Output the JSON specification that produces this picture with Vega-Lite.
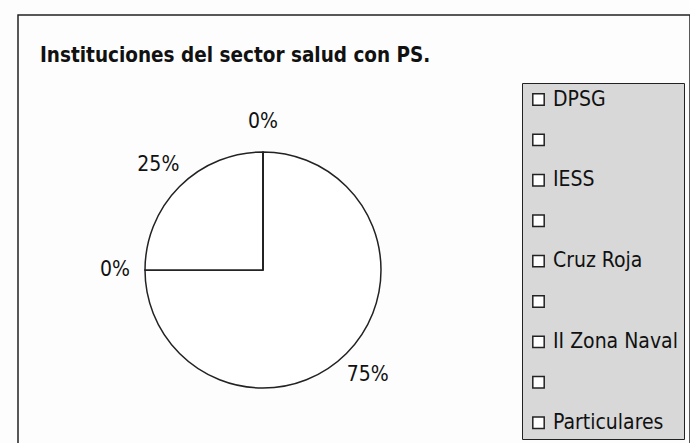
{
  "$schema": "https://vega.github.io/schema/vega-lite/v6.json",
  "autosize": "none",
  "padding": {"left": 18, "top": 15, "right": 0, "bottom": 0},
  "width": 672,
  "height": 440,
  "background": "#fdfdfd",
  "view": {"stroke": "#222", "strokeWidth": 1.5, "fill": "#fdfdfd"},
  "title": {
    "text": "Instituciones del sector salud con PS.",
    "anchor": "start",
    "orient": "top",
    "offset": 0,
    "dx": 22,
    "dy": 51,
    "font": "DejaVu Sans Condensed, Liberation Sans, sans-serif",
    "fontSize": 20.5,
    "fontWeight": "bold",
    "color": "#111"
  },
  "config": {
    "view": {"stroke": "#222", "strokeWidth": 1.5},
    "font": "Liberation Sans"
  },
  "data": {
    "values": [
      {"institucion": "DPSG", "porcentaje": 75, "orden": 1, "etiqueta": "75%"},
      {"institucion": "IESS", "porcentaje": 0, "orden": 2, "etiqueta": "0%"},
      {"institucion": "Cruz Roja", "porcentaje": 25, "orden": 3, "etiqueta": "25%"},
      {"institucion": "II Zona Naval", "porcentaje": 0, "orden": 4, "etiqueta": "0%"},
      {"institucion": "Particulares", "porcentaje": 0, "orden": 5, "etiqueta": ""}
    ]
  },
  "encoding": {
    "theta": {"field": "porcentaje", "type": "quantitative", "stack": true},
    "order": {"field": "orden", "type": "quantitative"}
  },
  "layer": [
    {
      "mark": {"type": "arc", "outerRadius": 118, "stroke": "#222", "strokeWidth": 1.5, "xOffset": -91, "yOffset": 35},
      "encoding": {
        "color": {
          "field": "institucion",
          "type": "nominal",
          "scale": {
            "domain": ["DPSG", " ", "IESS", "  ", "Cruz Roja", "   ", "II Zona Naval", "    ", "Particulares"],
            "range": ["#ffffff", "#ffffff", "#ffffff", "#ffffff", "#ffffff", "#ffffff", "#ffffff", "#ffffff", "#ffffff"]
          },
          "legend": {
            "title": null,
            "orient": "none",
            "legendX": 504,
            "legendY": 68,
            "fillColor": "#d8d8d8",
            "strokeColor": "#222",
            "padding": 6,
            "symbolType": "square",
            "symbolSize": 130,
            "symbolStrokeColor": "#222",
            "symbolStrokeWidth": 1.5,
            "symbolFillColor": "#ffffff",
            "labelFont": "DejaVu Sans Condensed, Liberation Sans, sans-serif",
            "labelFontSize": 21,
            "labelColor": "#111",
            "labelLimit": 300,
            "labelOffset": 4,
            "rowPadding": 18.4
          }
        }
      }
    },
    {
      "mark": {"type": "text", "radius": 148, "fontSize": 21, "font": "DejaVu Sans Condensed, Liberation Sans, sans-serif", "color": "#111", "xOffset": -91, "yOffset": 35},
      "encoding": {
        "text": {"field": "etiqueta", "type": "nominal"}
      }
    }
  ]
}
